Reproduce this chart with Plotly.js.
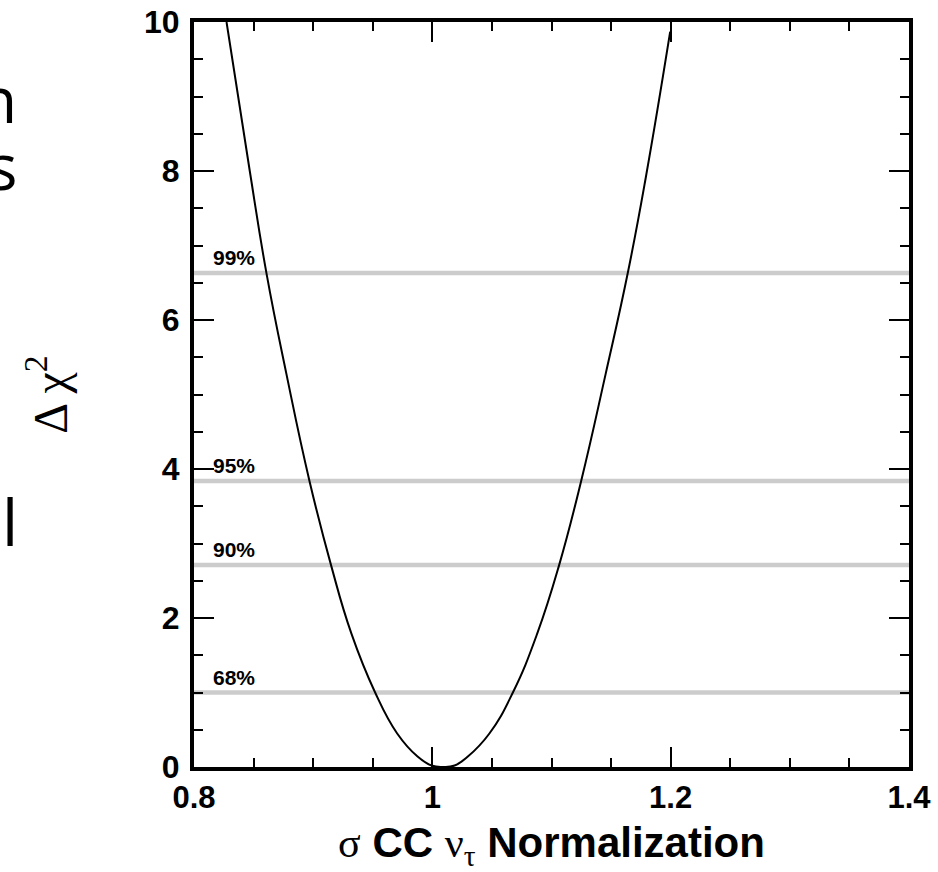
<!DOCTYPE html>
<html>
<head>
<meta charset="utf-8">
<script src="https://cdn.plot.ly/plotly-3.0.1.min.js"></script>
<style>
  html, body { margin: 0; padding: 0; background: #ffffff; }
  #chart { width: 938px; height: 872px; }
</style>
</head>
<body>
<div id="chart"></div>
<script>
// ---- data ----
const curveX = [0.8273, 0.8468, 0.8608, 0.8775, 0.8969, 0.9150, 0.9321, 0.9520, 0.9705, 0.9876, 0.9993, 1.0090,
                1.0187, 1.0298, 1.0479, 1.0676, 1.0880, 1.1064, 1.1249, 1.1455, 1.1640, 1.1792, 1.1996];
const curveY = [10.0, 8.0, 6.63, 5.28, 3.84, 2.71, 1.79, 1.0, 0.45, 0.14, 0.02, 0.0,
                0.02, 0.14, 0.45, 1.0, 1.79, 2.71, 3.84, 5.28, 6.63, 7.92, 9.87];
const levelNames = ['68%', '90%', '95%', '99%'];
const levelValues = [1.0, 2.71, 3.84, 6.63];
const xRange = [0.8, 1.4];
const yRange = [0, 10];
const fragmentLetters = ['n', 's', 'l'];

// ---- traces ----
const traces = [];
levelValues.forEach(function (v, i) {
  traces.push({
    type: 'scatter', mode: 'lines',
    x: [xRange[0], xRange[1]], y: [v, v],
    line: { color: '#cccccc', width: 4.5 },
    hoverinfo: 'skip', showlegend: false, name: levelNames[i]
  });
});
traces.push({
  type: 'scatter', mode: 'lines',
  x: curveX, y: curveY,
  line: { color: '#000000', width: 2, shape: 'spline', smoothing: 1.3 },
  showlegend: false, name: 'Δχ²'
});

// ---- annotations ----
const annotations = levelValues.map(function (v, i) {
  return {
    xref: 'x', yref: 'y', x: 0.8143, y: v,
    xanchor: 'left', yanchor: 'bottom', yshift: 2,
    text: levelNames[i], showarrow: false,
    font: { family: 'Liberation Sans, Arial, sans-serif', size: 21, color: '#000000', weight: 'bold' }
  };
});
// cut-off letters of slide text at the left page edge
const fragPos = [[-0.245, 0.897, 64], [-0.243, 0.808, 64], [-0.243, 0.33, 64]];
fragmentLetters.forEach(function (t, i) {
  annotations.push({
    xref: 'paper', yref: 'paper', x: fragPos[i][0], y: fragPos[i][1],
    xanchor: 'right', yanchor: 'middle', text: t, showarrow: false,
    font: { family: 'Open Sans, sans-serif', size: fragPos[i][2], color: '#000000' }
  });
});

const serif = 'Liberation Serif, Times New Roman, serif';
const layout = {
  width: 938, height: 872,
  margin: { l: 194, r: 29, t: 22, b: 105, pad: 0 },
  paper_bgcolor: '#ffffff', plot_bgcolor: '#ffffff',
  font: { family: 'Liberation Sans, Arial, sans-serif', color: '#000000' },
  xaxis: {
    range: xRange, dtick: 0.2, tick0: 0.8,
    ticks: 'inside', ticklen: 20, tickwidth: 2, tickcolor: '#000000',
    minor: { dtick: 0.05, ticks: 'inside', ticklen: 9, tickwidth: 2, tickcolor: '#000000', showgrid: false },
    showline: true, linewidth: 4, linecolor: '#000000', mirror: 'ticks',
    showgrid: false, zeroline: false,
    tickfont: { size: 31, weight: 'bold', color: '#000000' },
    ticklabelstandoff: 0,
    title: {
      text: '<span style="font-family:Liberation Serif;font-weight:normal">σ</span> <b>CC</b> <span style="font-family:Liberation Serif;font-weight:normal">ν<sub>τ</sub></span> <b>Normalization</b>',
      font: { size: 42, color: '#000000' },
      standoff: 20
    },
    automargin: false
  },
  yaxis: {
    range: yRange, dtick: 2, tick0: 0,
    ticks: 'inside', ticklen: 20, tickwidth: 2, tickcolor: '#000000',
    minor: { dtick: 0.5, ticks: 'inside', ticklen: 9, tickwidth: 2, tickcolor: '#000000', showgrid: false },
    showline: true, linewidth: 4, linecolor: '#000000', mirror: 'ticks',
    showgrid: false, zeroline: false,
    tickfont: { size: 32, weight: 'bold', color: '#000000' },
    ticklabelstandoff: 4,
    title: {
      text: 'Δ χ<sup>2</sup>',
      font: { family: serif, size: 48, color: '#000000' },
      standoff: 62
    },
    automargin: false
  },
  annotations: annotations,
  showlegend: false
};

Plotly.newPlot('chart', traces, layout, { staticPlot: true, displayModeBar: false });
</script>
</body>
</html>
